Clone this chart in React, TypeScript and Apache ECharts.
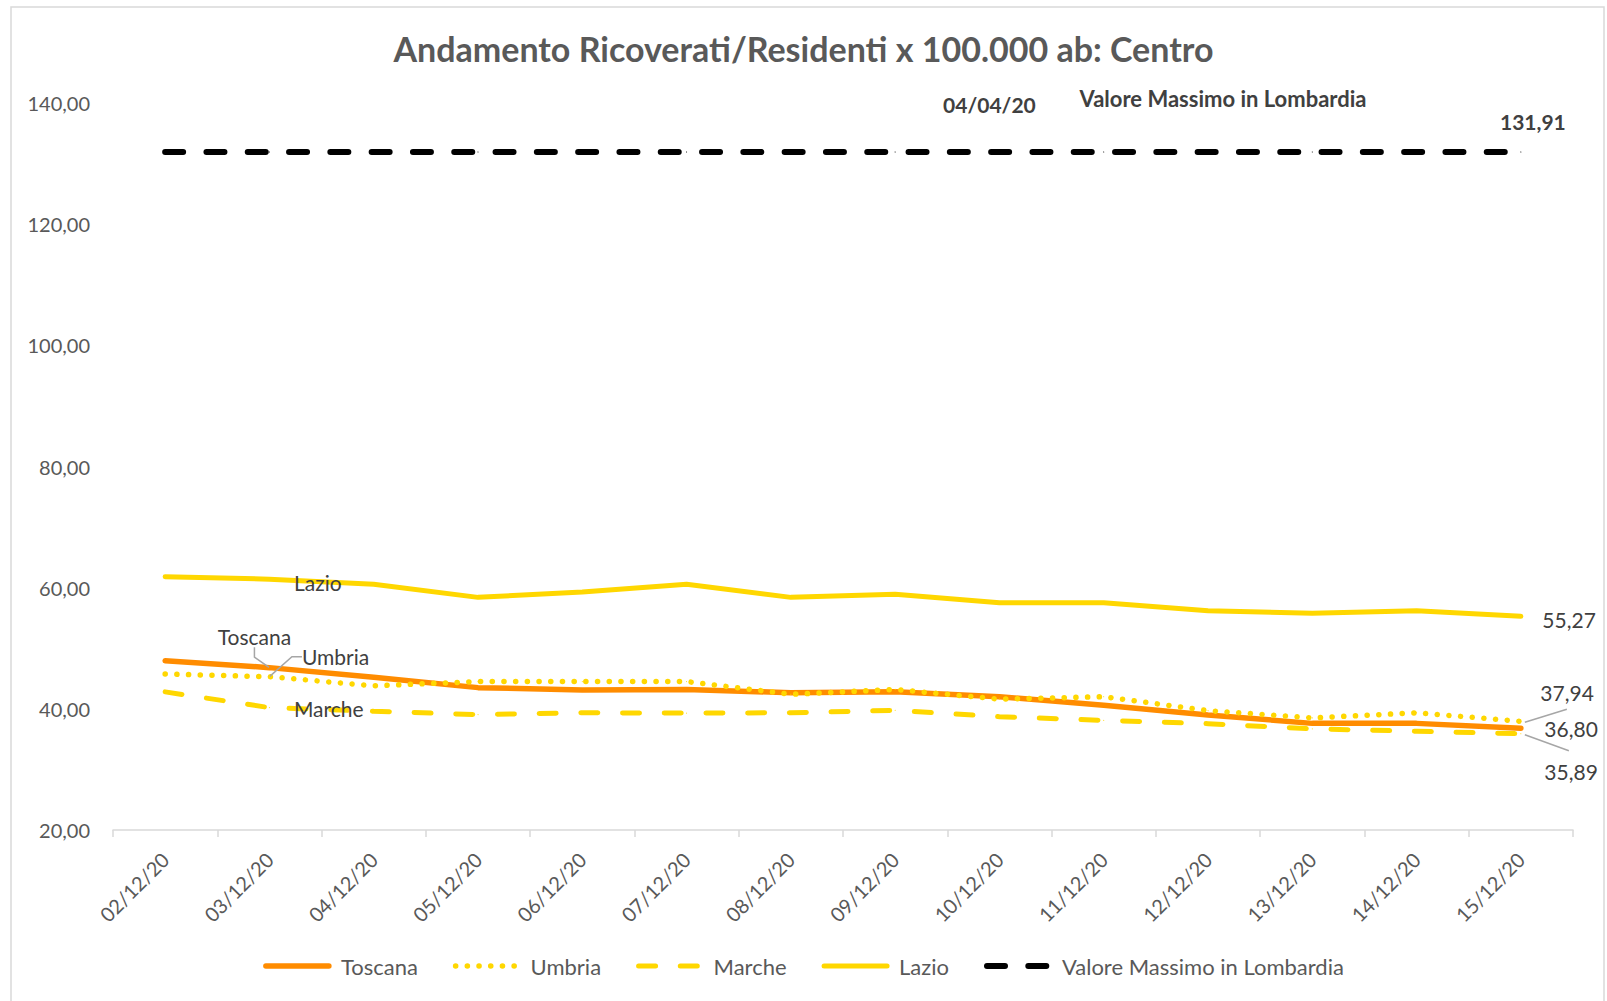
import React, { useEffect, useRef } from 'react';
import * as echarts from 'echarts';

const categories = [
  '02/12/20', '03/12/20', '04/12/20', '05/12/20', '06/12/20', '07/12/20', '08/12/20',
  '09/12/20', '10/12/20', '11/12/20', '12/12/20', '13/12/20', '14/12/20', '15/12/20',
];
const toscana = [47.94, 46.8, 45.2, 43.5, 43.1, 43.2, 42.65, 42.8, 42.0, 40.6, 39.0, 37.6, 37.6, 36.8];
const umbria = [45.75, 45.3, 43.8, 44.5, 44.5, 44.5, 42.4, 43.2, 41.6, 42.0, 39.7, 38.5, 39.35, 37.94];
const marche = [42.8, 40.2, 39.6, 39.05, 39.35, 39.3, 39.35, 39.75, 38.7, 38.1, 37.55, 36.7, 36.3, 35.89];
const lazio = [61.8, 61.4, 60.55, 58.4, 59.3, 60.55, 58.4, 58.9, 57.5, 57.5, 56.2, 55.76, 56.2, 55.27];
const lombardiaMax = 131.91;
const lombardiaPeakDate = '04/04/20';
const yMin = 20;
const yMax = 140;
const yStep = 20;

const TITLE = 'Andamento Ricoverati/Residenti x 100.000 ab: Centro';
const FONT = 'Lato';
const YELLOW = '#FFD700';
const ORANGE = '#FF8C00';
const LABEL_COLOR = '#404040';
const AXIS_TEXT = '#595959';
const LEADER = '#a6a6a6';

const fmt = (v: number) => v.toFixed(2).replace('.', ',');

const leader = { show: true, length2: 10, lineStyle: { color: LEADER, width: 1.5 } };
const baseLabel = { show: true, fontFamily: FONT, fontSize: 21, color: LABEL_COLOR };

const styles: Record<string, any> = {
  Toscana: { color: ORANGE, width: 5.5, type: 'solid', cap: 'round' },
  Umbria: { color: YELLOW, width: 5.5, type: [0.1, 11.6], cap: 'round' },
  Marche: { color: YELLOW, width: 5, type: [17, 24.7], cap: 'round' },
  Lazio: { color: YELLOW, width: 5, type: 'solid', cap: 'round' },
  'Valore Massimo in Lombardia': { color: '#000000', width: 6, type: [18, 23.3], cap: 'round' },
};

type LabelSpec = Record<number, any>;

function build(values: number[], specs: LabelSpec) {
  return values.map((v, i) => {
    const s = specs[i];
    if (!s) return v;
    return { value: v, label: { ...baseLabel, ...s.label }, labelLine: s.labelLine || { show: false } };
  });
}

export default function App() {
  const ref = useRef<HTMLDivElement>(null);
  useEffect(() => {
    if (!ref.current) return;
    const chart = echarts.init(ref.current, undefined, { renderer: 'svg' });
    const last = categories.length - 1;
    const lomb = categories.map(() => lombardiaMax);

    const lineCommon = {
      type: 'line',
      showSymbol: true,
      symbol: 'circle',
      symbolSize: 1,
      emphasis: { disabled: true },
      label: { show: false },
    };

    const names = ['Toscana', 'Umbria', 'Marche', 'Lazio', 'Valore Massimo in Lombardia'];

    const option: any = {
      animation: false,
      backgroundColor: '#ffffff',
      textStyle: { fontFamily: FONT },
      title: {
        text: TITLE,
        left: 'center',
        top: 26,
        textStyle: { fontFamily: FONT, fontSize: 34, fontWeight: 'bold', color: AXIS_TEXT },
      },
      graphic: [
        {
          id: 'border',
          type: 'rect',
          silent: true,
          z: -10,
          shape: { x: 11, y: 7, width: 1593, height: 1020 },
          style: { fill: 'none', stroke: '#d9d9d9', lineWidth: 1.5 },
        },
      ],
      legend: {
        bottom: 19,
        left: 'center',
        itemWidth: 63,
        itemHeight: 14,
        itemGap: 35,
        itemStyle: { opacity: 0 },
        textStyle: { fontFamily: FONT, fontSize: 22, color: AXIS_TEXT, padding: [0, 0, 0, 7] },
        data: names.map((n) => ({ name: n, lineStyle: { ...styles[n] }, itemStyle: { opacity: 0 } })),
      },
      grid: { left: 113, right: 34, top: 103, bottom: 171, containLabel: false },
      xAxis: {
        type: 'category',
        data: categories,
        boundaryGap: true,
        axisLine: { show: true, lineStyle: { color: '#d9d9d9', width: 1.5 } },
        axisTick: { show: true, length: 7, lineStyle: { color: '#d9d9d9', width: 1.5 } },
        axisLabel: { rotate: 45, margin: 26, fontFamily: FONT, fontSize: 20, color: AXIS_TEXT, interval: 0 },
        splitLine: { show: false },
      },
      yAxis: {
        type: 'value',
        min: yMin,
        max: yMax,
        interval: yStep,
        axisLine: { show: false },
        axisTick: { show: false },
        splitLine: { show: false },
        axisLabel: { margin: 23, fontFamily: FONT, fontSize: 20, color: AXIS_TEXT, formatter: (v: number) => fmt(v) },
      },
      series: [
        {
          ...lineCommon,
          name: 'Toscana',
          z: 3,
          itemStyle: { color: ORANGE },
          lineStyle: styles.Toscana,
          data: build(toscana, {
            1: { label: { formatter: '{a}', position: 'top', distance: 20, offset: [-15, 0] }, labelLine: leader },
            [last]: { label: { formatter: (p: any) => fmt(p.value), position: 'right', distance: 23 } },
          }),
        },
        {
          ...lineCommon,
          name: 'Umbria',
          z: 4,
          itemStyle: { color: YELLOW },
          lineStyle: styles.Umbria,
          data: build(umbria, {
            1: { label: { formatter: '{a}', position: 'right', distance: 32, offset: [0, -20] }, labelLine: leader },
            [last]: { label: { formatter: (p: any) => fmt(p.value), position: 'right', distance: 19, offset: [0, -29] } },
          }),
        },
        {
          ...lineCommon,
          name: 'Marche',
          z: 3,
          itemStyle: { color: YELLOW },
          lineStyle: styles.Marche,
          data: build(marche, {
            1: { label: { formatter: '{a}', position: 'right', distance: 24, offset: [0, 1] } },
            [last]: { label: { formatter: (p: any) => fmt(p.value), position: 'right', distance: 23, offset: [0, 38] } },
          }),
        },
        {
          ...lineCommon,
          name: 'Lazio',
          z: 3,
          itemStyle: { color: YELLOW },
          lineStyle: styles.Lazio,
          data: build(lazio, {
            1: { label: { formatter: '{a}', position: 'right', distance: 24, offset: [0, 3] } },
            [last]: { label: { formatter: (p: any) => fmt(p.value), position: 'right', distance: 21, offset: [0, 3] } },
          }),
        },
        {
          ...lineCommon,
          name: 'Valore Massimo in Lombardia',
          z: 3,
          itemStyle: { color: '#000000' },
          lineStyle: styles['Valore Massimo in Lombardia'],
          data: build(lomb, {
            8: { label: { formatter: lombardiaPeakDate, position: 'top', distance: 37, offset: [-10, 0], fontWeight: 'bold', fontSize: 21 } },
            10: { label: { formatter: '{a}', position: 'top', distance: 42, offset: [15, 0], fontWeight: 'bold', fontSize: 22 } },
            [last]: { label: { formatter: (p: any) => fmt(p.value), position: 'top', distance: 20, offset: [12, 0], fontWeight: 'bold', fontSize: 21 } },
          }),
        },
      ],
    };
    chart.setOption(option);

    // leader lines for the end labels of Umbria and Marche, anchored on the library's pixel positions
    const pu = chart.convertToPixel({ seriesIndex: 1 }, [last, umbria[last]]) as number[];
    const pm = chart.convertToPixel({ seriesIndex: 2 }, [last, marche[last]]) as number[];
    chart.setOption({
      graphic: [
        {
          id: 'leaderU',
          type: 'line',
          silent: true,
          z: 10,
          shape: { x1: pu[0] + 4, y1: pu[1] + 1, x2: pu[0] + 46, y2: pu[1] - 12 },
          style: { stroke: LEADER, lineWidth: 1.5 },
        },
        {
          id: 'leaderM',
          type: 'line',
          silent: true,
          z: 10,
          shape: { x1: pm[0] + 4, y1: pm[1] + 1, x2: pm[0] + 48, y2: pm[1] + 17 },
          style: { stroke: LEADER, lineWidth: 1.5 },
        },
      ],
    });
    return () => chart.dispose();
  }, []);
  return <div ref={ref} style={{ position: 'absolute', left: 0, top: 0, width: 1607, height: 1001 }} />;
}
